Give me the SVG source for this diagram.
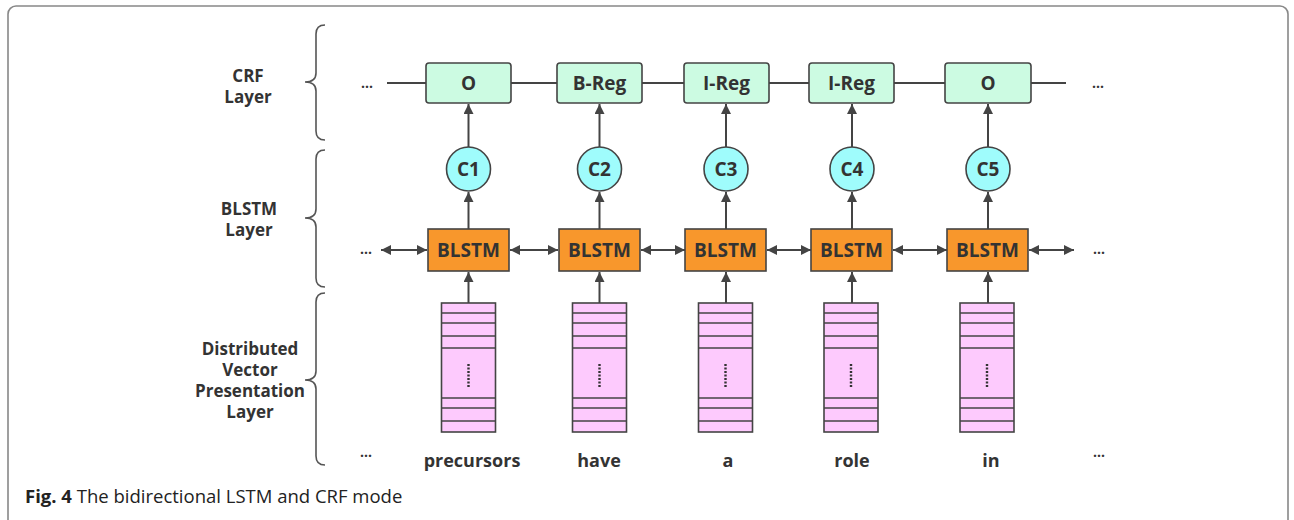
<svg xmlns="http://www.w3.org/2000/svg" width="1294" height="520" viewBox="0 0 1294 520">
<defs>
<style>
.lbl{font-family:"Open Sans","Liberation Sans",sans-serif;font-weight:bold;font-size:18px;fill:#333;text-anchor:middle}
.side{font-size:17px}
.big{font-size:19px}
.crf{fill:#ccfbe2;stroke:#444;stroke-width:1.6}
.circ{fill:#9ffcfc;stroke:#444;stroke-width:1.6}
.bl{fill:#f8972c;stroke:#444;stroke-width:1.6}
.vec{fill:#fdcafd;stroke:#444;stroke-width:1.6}
.ln{stroke:#444;stroke-width:2;fill:none}
.br{stroke:#555;stroke-width:1.6;fill:none}
.cap{font-family:"Open Sans","Liberation Sans",sans-serif;font-size:18.5px;fill:#222}
</style>
<marker id="ah" viewBox="0 0 10 10" refX="10" refY="5" markerWidth="10" markerHeight="10" markerUnits="userSpaceOnUse" orient="auto-start-reverse">
<path d="M0,0 L10,5 L0,10 z" fill="#444"/>
</marker>
<g id="stack">
<rect class="vec" x="-27" y="0" width="54" height="129"/>
<path class="ln" style="stroke-width:1.6" d="M-27,10H27M-27,20H27M-27,33H27M-27,45H27M-27,95H27M-27,105H27M-27,118H27"/>
<path d="M0,61V85" stroke="#333" stroke-width="2.4" stroke-dasharray="2,1.5"/>
</g>
</defs>
<rect x="8" y="6" width="1280" height="530" rx="8" fill="none" stroke="#888" stroke-width="1.6"/>

<g id="braces">
<path class="br" d="M325,25 Q316,25 316,34 V73 Q316,82 305,82 Q316,82 316,91 V131 Q316,140 325,140"/>
<path class="br" d="M325,150 Q316,150 316,159 V209 Q316,218 305,218 Q316,218 316,227 V278 Q316,287 325,287"/>
<path class="br" d="M325,293 Q316,293 316,302 V371 Q316,380 305,380 Q316,380 316,389 V456 Q316,465 325,465"/>
</g>
<g id="layer-labels">
<text class="lbl side" x="248" y="82">CRF</text>
<text class="lbl side" x="248" y="103">Layer</text>
<text class="lbl side" x="249" y="215">BLSTM</text>
<text class="lbl side" x="249" y="236">Layer</text>
<text class="lbl side" x="250" y="355">Distributed</text>
<text class="lbl side" x="250" y="376">Vector</text>
<text class="lbl side" x="250" y="397">Presentation</text>
<text class="lbl side" x="250" y="418">Layer</text>
</g>

<g id="connectors">
<path class="ln" d="M387,83H426M511,83H557M642,83H684M769,83H809M894,83H945M1031,83H1066"/>
<path class="ln" d="M468.5,147V104" marker-end="url(#ah)"/>
<path class="ln" d="M599.5,147V104" marker-end="url(#ah)"/>
<path class="ln" d="M726,147V104" marker-end="url(#ah)"/>
<path class="ln" d="M852,147V104" marker-end="url(#ah)"/>
<path class="ln" d="M988,147V104" marker-end="url(#ah)"/>
<path class="ln" d="M468.5,229V192" marker-end="url(#ah)"/>
<path class="ln" d="M599.5,229V192" marker-end="url(#ah)"/>
<path class="ln" d="M726,229V192" marker-end="url(#ah)"/>
<path class="ln" d="M852,229V192" marker-end="url(#ah)"/>
<path class="ln" d="M988,229V192" marker-end="url(#ah)"/>
<path class="ln" d="M468.5,303V272" marker-end="url(#ah)"/>
<path class="ln" d="M599.5,303V272" marker-end="url(#ah)"/>
<path class="ln" d="M726,303V272" marker-end="url(#ah)"/>
<path class="ln" d="M852,303V272" marker-end="url(#ah)"/>
<path class="ln" d="M988,303V272" marker-end="url(#ah)"/>
<path class="ln" d="M381,250H427" marker-start="url(#ah)" marker-end="url(#ah)"/>
<path class="ln" d="M510,250H558" marker-start="url(#ah)" marker-end="url(#ah)"/>
<path class="ln" d="M641,250H685" marker-start="url(#ah)" marker-end="url(#ah)"/>
<path class="ln" d="M767,250H811" marker-start="url(#ah)" marker-end="url(#ah)"/>
<path class="ln" d="M893,250H947" marker-start="url(#ah)" marker-end="url(#ah)"/>
<path class="ln" d="M1029,250H1074" marker-start="url(#ah)" marker-end="url(#ah)"/>
</g>

<g id="dots">
<text class="lbl" x="367" y="88" style="font-size:14px">...</text>
<text class="lbl" x="1098" y="88" style="font-size:14px">...</text>
<text class="lbl" x="366" y="254" style="font-size:14px">...</text>
<text class="lbl" x="1099" y="254" style="font-size:14px">...</text>
<text class="lbl" x="366" y="457" style="font-size:14px">...</text>
<text class="lbl" x="1099" y="457" style="font-size:14px">...</text>
</g>

<g id="crf1"><rect class="crf" x="426" y="63" width="85" height="40" rx="3"/><text class="lbl big" x="468.5" y="90">O</text></g>
<g id="crf2"><rect class="crf" x="557" y="63" width="85" height="40" rx="3"/><text class="lbl big" x="599.5" y="90">B-Reg</text></g>
<g id="crf3"><rect class="crf" x="684" y="63" width="85" height="40" rx="3"/><text class="lbl big" x="726.5" y="90">I-Reg</text></g>
<g id="crf4"><rect class="crf" x="809" y="63" width="85" height="40" rx="3"/><text class="lbl big" x="851.5" y="90">I-Reg</text></g>
<g id="crf5"><rect class="crf" x="945" y="63" width="86" height="40" rx="3"/><text class="lbl big" x="988" y="90">O</text></g>

<g id="c1"><circle class="circ" cx="468.5" cy="169" r="22"/><text class="lbl big" x="468.5" y="176">C1</text></g>
<g id="c2"><circle class="circ" cx="599.5" cy="169" r="22"/><text class="lbl big" x="599.5" y="176">C2</text></g>
<g id="c3"><circle class="circ" cx="726" cy="169" r="22"/><text class="lbl big" x="726" y="176">C3</text></g>
<g id="c4"><circle class="circ" cx="852" cy="169" r="22"/><text class="lbl big" x="852" y="176">C4</text></g>
<g id="c5"><circle class="circ" cx="988" cy="169" r="22"/><text class="lbl big" x="988" y="176">C5</text></g>

<g id="blstm1"><rect class="bl" x="428" y="229" width="81" height="42"/><text class="lbl big" x="468.5" y="257">BLSTM</text></g>
<g id="blstm2"><rect class="bl" x="559" y="229" width="81" height="42"/><text class="lbl big" x="599.5" y="257">BLSTM</text></g>
<g id="blstm3"><rect class="bl" x="685" y="229" width="81" height="42"/><text class="lbl big" x="725.5" y="257">BLSTM</text></g>
<g id="blstm4"><rect class="bl" x="811" y="229" width="81" height="42"/><text class="lbl big" x="851.5" y="257">BLSTM</text></g>
<g id="blstm5"><rect class="bl" x="947" y="229" width="81" height="42"/><text class="lbl big" x="987.5" y="257">BLSTM</text></g>

<g id="vec1"><use href="#stack" x="468.5" y="303"/><text class="lbl" x="472" y="467">precursors</text></g>
<g id="vec2"><use href="#stack" x="599.5" y="303"/><text class="lbl" x="599" y="467">have</text></g>
<g id="vec3"><use href="#stack" x="725.5" y="303"/><text class="lbl" x="728" y="467">a</text></g>
<g id="vec4"><use href="#stack" x="851" y="303"/><text class="lbl" x="852" y="467">role</text></g>
<g id="vec5"><use href="#stack" x="987" y="303"/><text class="lbl" x="991" y="467">in</text></g>

<g id="caption"><text class="cap" x="25" y="503"><tspan font-weight="bold">Fig. 4</tspan> The bidirectional LSTM and CRF mode</text></g>
</svg>
